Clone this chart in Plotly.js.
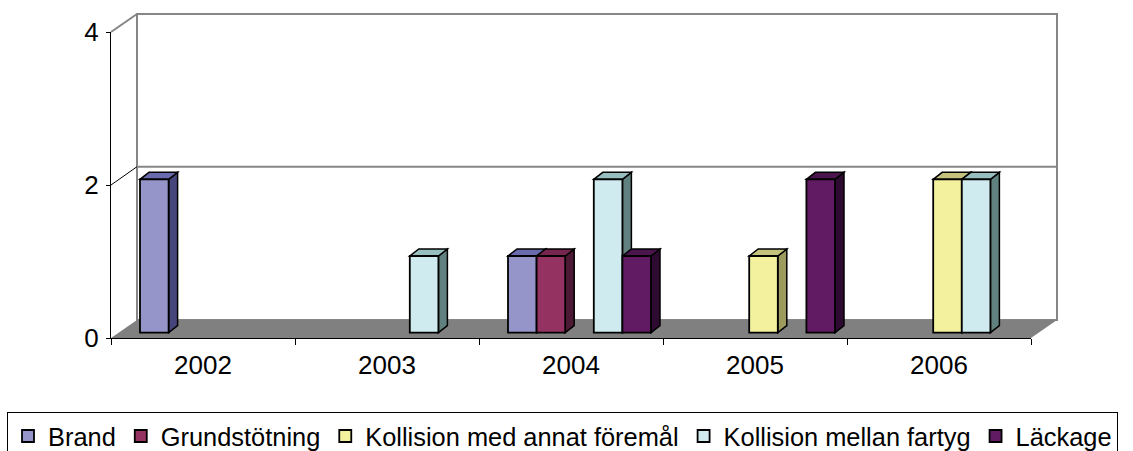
<!DOCTYPE html>
<html>
<head>
<meta charset="utf-8">
<script src="https://cdn.plot.ly/plotly-3.0.1.min.js"></script>
<style>html,body{margin:0;padding:0;background:#fff}#chart{width:1133px;height:451px}</style>
</head>
<body>
<div id="chart"></div>
<script>
// ---- data ----
const categories = ['2002', '2003', '2004', '2005', '2006'];
const seriesNames = ['Brand', 'Grundstötning', 'Kollision med annat föremål', 'Kollision mellan fartyg', 'Läckage'];
const brand = [2, 0, 1, 0, 0];
const grundstotning = [0, 0, 1, 0, 0];
const kollisionAnnat = [0, 0, 0, 1, 2];
const kollisionMellan = [0, 1, 2, 0, 2];
const lackage = [0, 0, 1, 2, 0];
const yTicks = [0, 2, 4];

// ---- styles ----
const seriesValues = [brand, grundstotning, kollisionAnnat, kollisionMellan, lackage];
const frontColors = ['#9595C9', '#943262', '#F3F19D', '#CFEBEF', '#611B62'];
const topColors   = ['#6A6AAE', '#76264E', '#C4C27C', '#97BFBF', '#4A144C'];
const sideColors  = ['#46467C', '#4C1A34', '#9C9A5C', '#608180', '#2E0A30'];

const W = 1133, H = 451;
const L = 111, R = 1031;               // front plot edges (px)
const TOP = 32, BOT = 338;             // front axis: value 4 and value 0 (px)
const fx = px => px / W;
const fy = py => (H - py) / H;

const CAT_PX = (R - L) / categories.length;   // 184
const BAR_W_PX = 28.6, BAR_OFF_PX = 29;
const DX_PX = 9, DY_PX = 7;
const BAR_ZERO_PY = 332.7, UNIT_BAR = 76.7;
const UNIT_FRONT = (BOT - TOP) / 4;

const barW = BAR_W_PX / CAT_PX;
const dx = DX_PX / CAT_PX;
const dy = DY_PX / UNIT_BAR;
// bars sit a little behind the front axis plane (3D projection)
const barR0 = -(BOT - BAR_ZERO_PY) / UNIT_BAR;
const barR1 = barR0 + (BOT - TOP) / UNIT_BAR;
const projectFront = t => barR0 + t * UNIT_FRONT / UNIT_BAR;
const FONT = 'Liberation Sans, Arial, Helvetica, sans-serif';

const xIdx = categories.map((c, i) => i);
const traces = seriesNames.map((name, k) => ({
  type: 'bar',
  name: name,
  x: xIdx,
  y: seriesValues[k].map(v => (v === 0 ? null : v)),
  width: barW,
  offset: (BAR_OFF_PX + BAR_W_PX * k) / CAT_PX - 0.5,
  marker: {color: frontColors[k], line: {color: '#000', width: 1.8}},
  hoverinfo: 'name+y'
}));

// ---- decoration: back wall, floor, side-wall lines ----
const shapes = [];
shapes.push({type: 'rect', xref: 'paper', yref: 'paper', layer: 'below',
  x0: fx(137), x1: fx(1057), y0: fy(320), y1: fy(14),
  fillcolor: '#fff', line: {color: '#868686', width: 2}});
shapes.push({type: 'line', xref: 'paper', yref: 'paper', layer: 'below',
  x0: fx(137), x1: fx(1057), y0: fy(166.7), y1: fy(166.7),
  line: {color: '#868686', width: 2}});
shapes.push({type: 'line', xref: 'paper', yref: 'paper', layer: 'below',
  x0: fx(L), x1: fx(137), y0: fy(TOP), y1: fy(14),
  line: {color: '#868686', width: 2}});
shapes.push({type: 'line', xref: 'paper', yref: 'paper', layer: 'below',
  x0: fx(L), x1: fx(137), y0: fy((TOP + BOT) / 2), y1: fy(166.7),
  line: {color: '#000', width: 1}});
shapes.push({type: 'path', xref: 'paper', yref: 'paper', layer: 'below',
  path: `M${fx(L)},${fy(BOT)} L${fx(R)},${fy(BOT)} L${fx(1057)},${fy(320)} L${fx(137)},${fy(320)} Z`,
  fillcolor: '#808080', line: {width: 0}});

// ---- 3D side & top faces of each bar, computed from data ----
categories.forEach((c, i) => {
  seriesNames.forEach((n, k) => {
    const v = seriesValues[k][i];
    if (!(v > 0)) return;
    const x0 = i - 0.5 + (BAR_OFF_PX + BAR_W_PX * k) / CAT_PX;
    const x1 = x0 + barW;
    shapes.push({type: 'path', xref: 'x', yref: 'y', layer: 'below',
      path: `M${x1},0 L${x1 + dx},${dy} L${x1 + dx},${v + dy} L${x1},${v} Z`,
      fillcolor: sideColors[k], line: {color: '#000', width: 1.5}});
    shapes.push({type: 'path', xref: 'x', yref: 'y', layer: 'below',
      path: `M${x0},${v} L${x1},${v} L${x1 + dx},${v + dy} L${x0 + dx},${v + dy} Z`,
      fillcolor: topColors[k], line: {color: '#000', width: 1.5}});
  });
});

const tickFont = {family: FONT, size: 26, color: '#000'};
const layout = {
  width: W, height: H,
  margin: {l: 0, r: 0, t: 0, b: 0, autoexpand: false},
  paper_bgcolor: '#fff',
  plot_bgcolor: 'rgba(0,0,0,0)',
  font: {family: FONT, size: 26, color: '#000'},
  showlegend: true,
  barmode: 'overlay',
  xaxis: {
    type: 'linear', range: [-0.5, categories.length - 0.5], domain: [fx(L), fx(R)], anchor: 'y',
    tickmode: 'array', tickvals: xIdx, ticktext: categories, ticks: '',
    ticklabelstandoff: 4,
    minor: {tickmode: 'array', tickvals: xIdx.concat([categories.length]).map(v => v - 0.5),
            ticks: 'outside', ticklen: 6, tickcolor: '#000', tickwidth: 1, showgrid: false},
    showline: true, linecolor: '#000', linewidth: 1,
    showgrid: false, zeroline: false, fixedrange: true,
    tickfont: tickFont
  },
  yaxis: {
    range: [barR0, barR1], domain: [fy(BOT), fy(TOP)], anchor: 'x',
    tickmode: 'array', tickvals: yTicks.map(projectFront), ticktext: yTicks.map(String),
    ticks: 'outside', ticklen: 4, tickcolor: '#000',
    ticklabelstandoff: 2,
    showline: true, linecolor: '#000', linewidth: 1,
    showgrid: false, zeroline: false, fixedrange: true,
    tickfont: tickFont
  },
  legend: {
    orientation: 'h', x: fx(7), xanchor: 'left', y: fy(412), yanchor: 'top',
    bordercolor: '#000', borderwidth: 1, bgcolor: '#fff',
    font: {family: FONT, size: 25.4, color: '#000'},
    itemwidth: 30, traceorder: 'normal'
  },
  shapes: shapes
};

Plotly.newPlot('chart', traces, layout, {displayModeBar: false, staticPlot: true});
</script>
</body>
</html>
